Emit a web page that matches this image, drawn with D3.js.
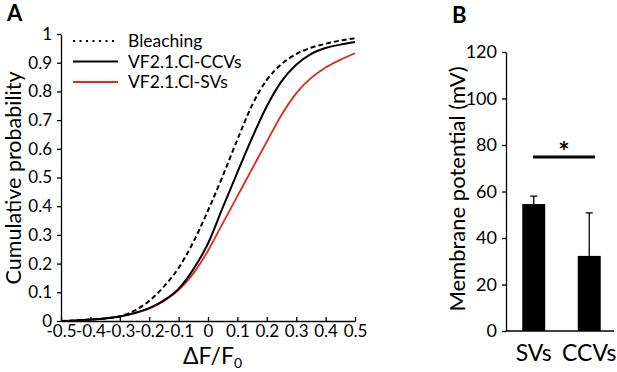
<!DOCTYPE html>
<html lang="en">
<head>
    <meta charset="UTF-8">
    <title>Cumulative probability and membrane potential</title>
    <script src="https://d3js.org/d3.v7.min.js"></script>
    <style>
        body { margin: 0; background: #fff; }
        svg { display: block; font-family: Lato, "Open Sans", sans-serif; }
        .axis path, .axis line { stroke: #000; stroke-width: 1.3; }
        .axis text { font-size: 17px; fill: #000; font-family: Lato, "Open Sans", sans-serif; }
    </style>
</head>
<body>
<div id="chart"></div>
<script>
    // ---- panel A data ----
    const dfValues = [-0.5, -0.45, -0.4, -0.35, -0.3, -0.25, -0.2, -0.15, -0.1, -0.05, 0,
                      0.05, 0.1, 0.15, 0.2, 0.25, 0.3, 0.35, 0.4, 0.45, 0.5];
    const bleaching = [0, 0.002, 0.005, 0.009, 0.016, 0.036, 0.07, 0.12, 0.185, 0.275, 0.385,
                       0.505, 0.632, 0.752, 0.84, 0.895, 0.93, 0.952, 0.966, 0.977, 0.985];
    const ccvs = [0, 0.002, 0.005, 0.009, 0.016, 0.028, 0.045, 0.072, 0.112, 0.18, 0.27,
                  0.395, 0.518, 0.638, 0.748, 0.835, 0.893, 0.93, 0.951, 0.963, 0.972];
    const svs = [0, 0.002, 0.005, 0.009, 0.016, 0.027, 0.043, 0.07, 0.108, 0.165, 0.245,
                 0.34, 0.435, 0.53, 0.625, 0.718, 0.793, 0.846, 0.883, 0.91, 0.933];
    const xTicksA = [-0.5, -0.4, -0.3, -0.2, -0.1, 0, 0.1, 0.2, 0.3, 0.4, 0.5];
    const yTicksA = [0, 0.1, 0.2, 0.3, 0.4, 0.5, 0.6, 0.7, 0.8, 0.9, 1];
    const legendLabels = ["Bleaching", "VF2.1.Cl-CCVs", "VF2.1.Cl-SVs"];

    // ---- panel B data ----
    const groups = ["SVs", "CCVs"];
    const meanPotential = [54.6, 32.3];
    const errPotential = [3.4, 18.5];
    const yTicksB = [0, 20, 40, 60, 80, 100, 120];
    const sigLevel = 74.8;

    const svg = d3.select("#chart").append("svg")
        .attr("width", 617)
        .attr("height", 372);

    // ================= panel A =================
    const xA = d3.scaleLinear().domain([-0.5, 0.5]).range([61, 355]);
    const yA = d3.scaleLinear().domain([0, 1]).range([321, 34]);

    const plotA = svg.append("g");

    plotA.append("g")
        .attr("class", "axis")
        .attr("transform", "translate(0,321)")
        .call(d3.axisBottom(xA).tickValues(xTicksA).tickSizeInner(-4).tickSizeOuter(0).tickPadding(4)
            .tickFormat(d => Math.abs(d) < 1e-9 ? "0" : d.toFixed(1)));

    plotA.append("g")
        .attr("class", "axis")
        .attr("transform", "translate(61,0)")
        .call(d3.axisLeft(yA).tickValues(yTicksA).tickSizeInner(4).tickSizeOuter(0).tickPadding(5)
            .tickFormat(d => d === 0 ? "0" : d === 1 ? "1" : d.toFixed(1)));

    const line = d3.line()
        .x((d, i) => xA(dfValues[i]))
        .y(d => yA(d))
        .curve(d3.curveMonotoneX);

    plotA.append("path")
        .attr("d", line(svs))
        .attr("fill", "none")
        .attr("stroke", "#e0281e")
        .attr("stroke-width", 1.8);

    plotA.append("path")
        .attr("d", line(ccvs))
        .attr("fill", "none")
        .attr("stroke", "#000")
        .attr("stroke-width", 2);

    plotA.append("path")
        .attr("d", line(bleaching))
        .attr("fill", "none")
        .attr("stroke", "#000")
        .attr("stroke-width", 2)
        .attr("stroke-dasharray", "5,3");

    // legend
    const legend = plotA.append("g");
    const legendStyles = [
        { stroke: "#000", dash: "2,4.5" },
        { stroke: "#000", dash: null },
        { stroke: "#e0281e", dash: null }
    ];
    legendLabels.forEach((lab, i) => {
        const y = 41 + i * 20.5;
        legend.append("line")
            .attr("x1", 73).attr("x2", 118)
            .attr("y1", y).attr("y2", y)
            .attr("stroke", legendStyles[i].stroke)
            .attr("stroke-width", 2)
            .attr("stroke-dasharray", legendStyles[i].dash);
        legend.append("text")
            .attr("x", 128)
            .attr("y", y + 6)
            .style("font-size", "17.5px")
            .text(lab);
    });

    // axis titles
    plotA.append("text")
        .attr("transform", "translate(21,178) rotate(-90)")
        .style("text-anchor", "middle")
        .style("font-size", "21.5px")
        .text("Cumulative probability");

    const xTitle = plotA.append("text")
        .attr("x", 183)
        .attr("y", 364)
        .style("font-size", "23px");
    xTitle.append("tspan").text("\u0394F/F");
    xTitle.append("tspan").attr("dy", 4).style("font-size", "14px").text("0");

    plotA.append("text")
        .attr("x", 7)
        .attr("y", 21)
        .style("font-size", "22px")
        .style("font-weight", "bold")
        .text("A");

    // ================= panel B =================
    const xB = d3.scaleBand().domain(groups).range([506, 617]).paddingInner(0.586).paddingOuter(0.293);
    const yB = d3.scaleLinear().domain([0, 120]).range([331, 52]);

    const plotB = svg.append("g");

    plotB.append("g")
        .attr("class", "axis")
        .attr("transform", "translate(506,0)")
        .call(d3.axisLeft(yB).tickValues(yTicksB).tickSizeInner(4).tickSizeOuter(0).tickPadding(5));
    plotB.selectAll(".axis text").style("font-size", "18px");

    plotB.append("line")
        .attr("x1", 506).attr("x2", 614)
        .attr("y1", yB(0)).attr("y2", yB(0))
        .attr("stroke", "#000")
        .attr("stroke-width", 1.3);

    // error bars (upper only)
    groups.forEach((g, i) => {
        const cx = xB(g) + xB.bandwidth() / 2;
        const top = yB(meanPotential[i] + errPotential[i]);
        plotB.append("line")
            .attr("x1", cx).attr("x2", cx)
            .attr("y1", yB(meanPotential[i])).attr("y2", top)
            .attr("stroke", "#000").attr("stroke-width", 1.3);
        plotB.append("line")
            .attr("x1", cx - 3.5).attr("x2", cx + 3.5)
            .attr("y1", top).attr("y2", top)
            .attr("stroke", "#000").attr("stroke-width", 1.3);
    });

    plotB.selectAll("rect.bar")
        .data(groups)
        .enter()
        .append("rect")
        .attr("class", "bar")
        .attr("x", d => xB(d))
        .attr("y", (d, i) => yB(meanPotential[i]))
        .attr("width", xB.bandwidth())
        .attr("height", (d, i) => yB(0) - yB(meanPotential[i]))
        .attr("fill", "#000");

    plotB.selectAll("text.cat")
        .data(groups)
        .enter()
        .append("text")
        .attr("class", "cat")
        .attr("x", d => xB(d) + xB.bandwidth() / 2)
        .attr("y", 361)
        .style("text-anchor", "middle")
        .style("font-size", "23px")
        .text(d => d);

    // significance bar
    plotB.append("line")
        .attr("x1", 533).attr("x2", 595)
        .attr("y1", yB(sigLevel)).attr("y2", yB(sigLevel))
        .attr("stroke", "#000")
        .attr("stroke-width", 3);
    plotB.append("text")
        .attr("x", 564)
        .attr("y", yB(sigLevel) + 4)
        .style("text-anchor", "middle")
        .style("font-size", "27px")
        .style("font-weight", "bold")
        .text("*");

    plotB.append("text")
        .attr("transform", "translate(465,189) rotate(-90)")
        .style("text-anchor", "middle")
        .style("font-size", "22px")
        .text("Membrane potential (mV)");

    plotB.append("text")
        .attr("x", 452)
        .attr("y", 23)
        .style("font-size", "22px")
        .style("font-weight", "bold")
        .text("B");
</script>
</body>
</html>
